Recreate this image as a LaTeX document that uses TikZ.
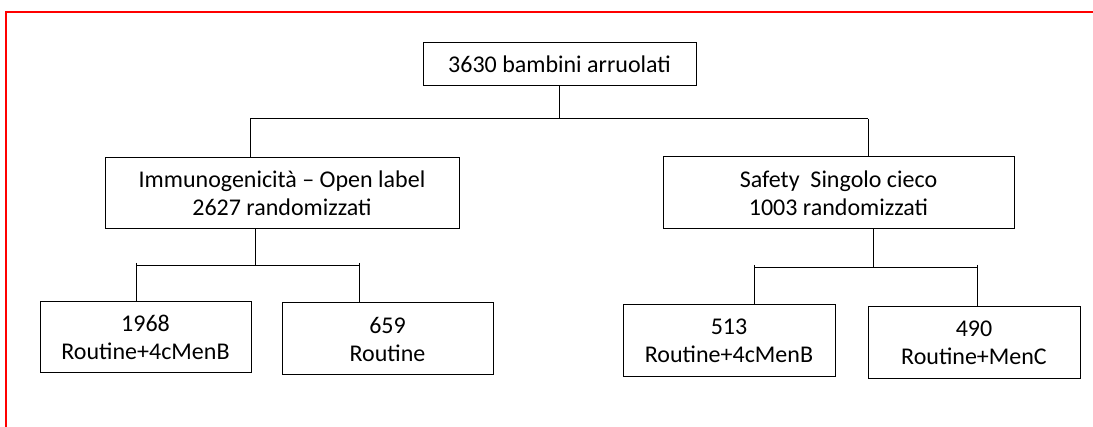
\documentclass[tikz,border=0pt]{standalone}
\usepackage{fontspec}
\setmainfont{Carlito}
\usetikzlibrary{calc}

\begin{document}
\begin{tikzpicture}[x=1pt,y=-1pt,
        box/.style={draw,line width=1pt,inner sep=0pt,align=center,
                    font=\fontsize{24}{28}\selectfont},
        link/.style={line width=1pt}]
        \useasboundingbox (0,0) rectangle (1093,427);
        \draw[red,line width=1.3pt] (1093,12) -- (6,12) -- (6,427);

        \node[box,minimum width=273pt,minimum height=43pt] (enrolled) at (559.5,64.5) {3630 bambini arruolati};

        \node[box,minimum width=354pt,minimum height=71pt] (immuno) at (282,193.5) {Immunogenicità – Open label\\2627 randomizzati};
        \node[box,minimum width=351pt,minimum height=72pt] (safety) at (838.5,193) {Safety\ \ Singolo cieco\\1003 randomizzati};

        \node[box,minimum width=211pt,minimum height=71pt] (imm_menb) at (145.5,337.5) {1968\\Routine+4cMenB};
        \node[box,minimum width=211pt,minimum height=72pt] (imm_routine) at (387.5,339) {659\\Routine};
        \node[box,minimum width=212pt,minimum height=72pt] (saf_menb) at (729,341) {513\\Routine+4cMenB};
        \node[box,minimum width=212pt,minimum height=72pt] (saf_menc) at (974,343) {490\\Routine+MenC};

        % first split
        \coordinate (split_l) at (250,119);
        \coordinate (split_r) at (868,119);
        \draw[link] (enrolled.south) -- (enrolled.south |- split_l);
        \draw[link] (split_l) -- (split_r);
        \draw[link] (split_l) -- (split_l |- immuno.north);
        \draw[link] (split_r) -- (split_r |- safety.north);

        % immunogenicity arms
        \coordinate (imm_split) at (255,266);
        \coordinate (imm_l) at (136,266);
        \coordinate (imm_r) at (359,266);
        \draw[link] (imm_split |- immuno.south) -- (imm_split);
        \draw[link] (imm_l) -- (imm_r);
        \draw[link] ([yshift=3pt]imm_l) -- (imm_l |- imm_menb.north);
        \draw[link] ([yshift=3pt]imm_r) -- (imm_r |- imm_routine.north);

        % safety arms
        \coordinate (saf_split) at (873,268);
        \coordinate (saf_l) at (754,268);
        \coordinate (saf_r) at (977,268);
        \draw[link] (saf_split |- safety.south) -- (saf_split);
        \draw[link] (saf_l) -- (saf_r);
        \draw[link] ([yshift=3pt]saf_l) -- (saf_l |- saf_menb.north);
        \draw[link] ([yshift=3pt]saf_r) -- (saf_r |- saf_menc.north);
    \end{tikzpicture}
\end{document}
